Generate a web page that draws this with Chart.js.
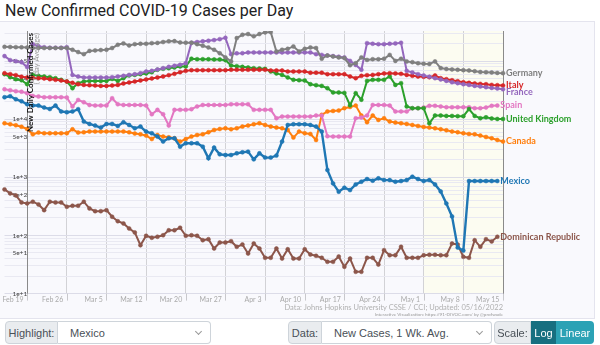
<!DOCTYPE html>
<html>
<head>
<meta charset="utf-8">
<script src="https://cdn.jsdelivr.net/npm/chart.js@4.4.0/dist/chart.umd.min.js"></script>
<style>
body{margin:0;width:600px;height:345px;overflow:hidden;background:#fff;font-family:'Liberation Sans',Arial,sans-serif;position:relative}
#title{position:absolute;left:5px;top:1px;font:16px Roboto,'Liberation Sans',sans-serif;color:#222;white-space:nowrap}
#box{position:absolute;left:0;top:21px;width:594px;height:296px;background:#f9f9fd;border:1px solid #e4e4ee;border-left:none}
#wrap{position:absolute;left:0;top:21px;width:595px;height:297px}
.src{position:absolute;right:97px;white-space:nowrap;font-family:Lato,sans-serif;color:#b0b0b0}
.grp{position:absolute;top:321px;height:23px;display:flex;font:11px 'Liberation Sans',Arial,sans-serif;color:#495057}
.lab{background:#e9ecef;border:1px solid #ced4da;border-radius:4px 0 0 4px;display:flex;align-items:center;justify-content:center;box-sizing:border-box}
.sel{background:#fff;border:1px solid #ced4da;border-left:none;border-radius:0 4px 4px 0;display:flex;align-items:center;justify-content:space-between;padding:0 9px 0 12px;box-sizing:border-box}
.chev{width:4px;height:4px;border-right:1px solid #999;border-bottom:1px solid #999;transform:rotate(45deg);margin-top:-3px}
.btn{display:flex;align-items:center;justify-content:center;color:#fff;box-sizing:border-box}
</style>
</head>
<body>
<div id="title">New Confirmed COVID-19 Cases per Day</div>
<div id="box"></div>
<div id="wrap"><canvas id="chart" width="595" height="297"></canvas></div>
<div class="src" style="top:303px;font-size:7.5px">Data: Johns Hopkins University CSSE / CCI; Updated: 05/16/2022</div>
<div class="src" style="top:311px;font-size:4.6px;color:#999">Interactive Visualization: https://91-DIVOC.com/ by @profwade</div>

<div class="grp" style="left:5px"><div class="lab" style="width:53px">Highlight:</div><div class="sel" style="width:153px">Mexico<span class="chev"></span></div></div>
<div class="grp" style="left:288px"><div class="lab" style="width:34px">Data:</div><div class="sel" style="width:170px">New Cases, 1 Wk. Avg.<span class="chev"></span></div></div>
<div class="grp" style="left:494px"><div class="lab" style="width:37px">Scale:</div><div class="btn" style="width:25px;background:#176f80">Log</div><div class="btn" style="width:38px;background:#2ba2b5;border-radius:0 4px 4px 0">Linear</div></div>

<script>
// tick labels every 7 days, data starts 4 days before the first one
const tickLabels=['Feb 19','Feb 26','Mar 5','Mar 12','Mar 20','Mar 27','Apr 3','Apr 10','Apr 17','Apr 24','May 1','May 8','May 15'];
const leadDays=4;

const germany=[176000,175000,174000,173000,
 172000,168000,168000,168000,168000,168000,168000,
 168000,157000,143000,132000,150000,153000,155000,
 157000,168000,191000,202000,186000,196000,199000,
 199000,204000,206000,213000,219000,221000,210000,
 208000,207000,196000,184000,172000,157000,137000,
 116000,99000,249000,284000,292000,267000,292000,
 312000,316000,147000,157000,163000,179000,147000,
 163000,172000,168000,110000,125000,120000,116000,
 113000,85000,92000,116000,105000,108000,108000,
 110000,128000,101000,110000,99000,96000,92000,
 90000,89000,99000,76000,73000,72000,71000,
 70000,69000,67000,65000,64600,63900,62800,
 62100];
const italy=[62100,59700,57400,54000,
 52400,51500,50900,50300,48900,47600,46500,
 44700,42300,40100,39000,38600,38100,37500,
 37500,38100,39000,41300,42900,44700,46500,
 48400,50300,52400,54500,57400,60400,64600,
 68000,70000,70000,70000,70000,70000,70000,
 70000,71000,71000,71000,71000,71000,71000,
 71000,69000,69000,69000,66400,66400,66400,
 66400,63300,63300,63300,59700,59700,59700,
 59700,54500,50900,55800,57400,58000,59700,
 61500,62100,61500,60400,58000,55800,54500,
 53600,53000,56700,50900,48900,47000,45200,
 43400,42300,41300,40600,40100,39000,38600,
 38100];
const france=[122000,104000,100000,96000,
 79000,196000,181000,174000,170000,170000,170000,
 174000,58000,54500,52400,52400,52400,52400,
 52400,53000,54500,55800,58000,59700,62100,
 66400,68000,71900,75800,79700,83000,86400,
 92400,207000,213000,219000,224000,230000,239000,
 252000,132000,136000,137000,141000,141000,141000,
 141000,141000,141000,141000,141000,141000,141000,
 141000,141000,132000,128000,125000,122000,119000,
 116000,101000,86000,71000,204000,199000,196000,
 196000,199000,202000,207000,68000,64000,59700,
 56700,53600,50900,48400,45700,43400,41800,
 40100,39000,37500,36600,35600,34600,33800,
 32900];
const spain=[32900,31600,30400,29800,
 28100,25200,24600,23900,23900,23900,23900,
 23700,16600,21500,19600,17600,17200,17200,
 17200,23000,18100,17600,17600,17600,17600,
 17200,12200,14500,12200,7800,14500,14500,
 14500,14900,16600,17600,17600,17600,17600,
 17600,18100,18100,18100,18100,14500,14500,
 14500,14500,10400,11100,11100,11100,11100,
 11100,11100,11600,11600,5100,5030,5030,
 5030,5030,10400,10700,11600,17600,17600,
 17600,17200,13600,13600,13600,15500,15500,
 15900,17000,17000,16600,16100,16100,16100,
 16100,16100,15500,15500,15900,17000,17200,
 null];
const uk=[59700,53000,48900,47000,
 40100,58000,55800,54500,53000,50900,47600,
 44700,34200,41800,44700,45700,45700,45700,
 45700,49500,45700,50900,56700,58000,59700,
 61500,64600,71000,73700,75800,77900,81000,
 81000,110000,108000,108000,108000,107000,107000,
 104000,84000,82000,79700,77900,75800,74800,
 73700,66400,61500,58000,52400,47600,47000,
 46500,40100,38600,37500,34200,28900,28900,
 28400,17400,28100,21700,45700,47600,47600,
 47600,54500,39000,41800,16600,15500,15500,
 15500,8500,11600,11600,11400,11400,11300,
 11300,15000,11400,10400,10800,10300,10100,
 10100];
const canada=[8530,8200,7880,7430,
 6800,5510,5900,5740,5740,5740,5740,
 5740,6720,5900,5970,6140,6140,6140,
 6140,6140,6140,6140,5970,5670,5510,
 5230,4570,5360,5030,4890,4700,4130,
 4570,5030,5360,5510,5970,6540,6800,
 6990,6720,6990,7480,7790,8200,8530,
 7970,7480,7190,6990,6540,4840,6140,
 5740,5580,4400,11900,13600,13900,14100,
 15500,16300,17200,11600,8880,11600,9720,
 10400,9130,8770,8530,8300,7970,7660,
 7370,7190,6990,6720,6460,6140,5970,
 5740,5580,5510,5230,4950,4700,4400,
 4130];
const mexico=[23900,24900,22100,20400,
 18100,17200,17200,15900,15000,17200,13600,
 13200,13600,14900,9130,8300,7790,7190,
 8300,8300,7660,8880,7970,6990,7480,
 6140,5740,5030,4130,4700,4700,3380,
 3860,3860,3860,3380,2130,3250,2490,
 2420,2420,2590,2700,2770,2040,2590,
 2190,2190,2370,4130,7970,8200,8200,
 8200,7970,7480,6140,1340,788,567,
 664,604,757,843,935,877,961,
 898,898,843,864,898,1028,935,
 864,898,757,574,356,213,62,
 55,864,864,864,864,864,864,
 null];
const dominican=[621,530,489,371,
 356,381,342,273,381,371,371,
 312,325,325,381,292,262,262,
 273,210,176,161,132,113,68,
 98.8,91.3,95,101,123,123,136,
 98.8,101,98.8,83,86.4,59.7,75.7,
 75.7,79.7,63.8,70,48.9,72.8,59.7,
 41.3,41.3,59.7,40.1,58,40.1,40.1,
 58,47,44.7,41.3,35.2,35.2,43.4,
 28.9,40.1,23.7,23.7,41.3,41.3,31.6,
 55.8,45.7,45.7,63.8,41.3,41.3,41.3,
 45.7,46.5,46.5,45.7,45.7,72.8,70,
 42.9,41.3,83,63.8,86.4,79,95,
 null];

const yTitle='New Daily Confirmed Cases';
const ySubTitle='(7-day Average)';
const shadeFrom='May 1';

const labels=germany.map((v,i)=>{
  const d=i-leadDays;
  return d>=0&&d%7===0?tickLabels[d/7]:'';
});

function series(label,data,color,width){
  return {label,data,borderColor:color,backgroundColor:color,pointBackgroundColor:color,
    pointBorderColor:color,borderWidth:width||2,pointRadius:2,pointBorderWidth:0.5,tension:0,spanGaps:false};
}

const endLabels={
  id:'endLabels',
  afterDatasetsDraw(chart){
    const ctx=chart.ctx;const items=[];
    chart.data.datasets.forEach((ds,i)=>{
      let k=ds.data.length-1;while(ds.data[k]==null)k--;
      const pt=chart.getDatasetMeta(i).data[k];
      items.push({x:pt.x+3,y:pt.y,text:ds.label,color:ds.borderColor});
    });
    items.sort((a,b)=>a.y-b.y);
    for(let i=1;i<items.length;i++) if(items[i].y-items[i-1].y<7) items[i].y=items[i-1].y+7;
    ctx.save();
    ctx.font='bold 9px Lato';ctx.textBaseline='middle';ctx.textAlign='left';
    items.forEach(it=>{ctx.fillStyle=it.color;ctx.fillText(it.text,it.x,it.y);});
    ctx.restore();
  }
};

const shade={
  id:'shade',
  beforeDraw(chart){
    const {ctx,chartArea:a,scales:{x}}=chart;
    const x0=x.getPixelForValue(labels.indexOf(shadeFrom));
    ctx.save();ctx.fillStyle='#fcfcf1';ctx.fillRect(x0,a.top,a.right-x0,a.bottom-a.top);ctx.restore();
  },
  afterDraw(chart){
    const {ctx,chartArea:a,scales:{x}}=chart;
    // little tick marks under the date axis
    ctx.save();ctx.strokeStyle='#c8c8cc';ctx.lineWidth=1;
    x.ticks.forEach(t=>{const px=Math.round(x.getPixelForValue(t.value))+0.5;ctx.beginPath();ctx.moveTo(px,a.bottom);ctx.lineTo(px,a.bottom+7);ctx.stroke();});
    ctx.restore();
    ctx.save();
    ctx.translate(30,a.top+2);ctx.rotate(-Math.PI/2);
    ctx.textAlign='right';ctx.textBaseline='middle';
    ctx.font='bold 8px Lato';ctx.fillStyle='#111';ctx.fillText(yTitle,0,0);
    ctx.font='7.5px Lato';ctx.fillStyle='#999';ctx.fillText(ySubTitle,0,7);
    ctx.restore();
  }
};

new Chart(document.getElementById('chart'),{
  type:'line',
  data:{labels,datasets:[
    series('Mexico',mexico,'#1f77b4',2.4),
    series('Germany',germany,'#7f7f7f'),
    series('France',france,'#9467bd'),
    series('Italy',italy,'#d62728'),
    series('United Kingdom',uk,'#2ca02c'),
    series('Spain',spain,'#e377c2'),
    series('Canada',canada,'#ff7f0e'),
    series('Dominican Republic',dominican,'#8c564b')
  ]},
  options:{
    responsive:false,animation:false,
    layout:{padding:{left:2,right:92,top:10,bottom:12}},
    plugins:{legend:{display:false},tooltip:{enabled:false}},
    scales:{
      x:{
        afterBuildTicks(s){s.ticks=s.ticks.filter(t=>labels[t.value]);},
        grid:{color:c=>c.index===c.scale.ticks.length-1?'#8a8a8a':'#d2d2d6',drawTicks:false},
        border:{display:false},
        ticks:{autoSkip:false,maxRotation:0,align:'end',padding:2,color:'#aaa',font:{family:'Lato',size:7},
          callback(v){return this.getLabelForValue(v)+'  ';}}
      },
      y:{
        type:'logarithmic',min:10,max:330000,
        position:{x:leadDays},
        afterBuildTicks(s){
          const t=[];
          for(let e=1;e<=5;e++) for(let m=1;m<=9;m++){const v=m*Math.pow(10,e);if(v<=s.max)t.push({value:v});}
          s.ticks=t;
        },
        grid:{color:c=>{const v=c.tick&&c.tick.value;const m=v/Math.pow(10,Math.floor(Math.log10(v)+1e-9));return Math.abs(m-1)<1e-6?'#dcdce8':'#e9e9f2';},tickLength:4},
        border:{color:'#8a8a8a'},
        ticks:{autoSkip:false,color:'#444',font:{family:'Lato',size:6.5},
          callback(v){const m=v/Math.pow(10,Math.floor(Math.log10(v)+1e-9));return (Math.abs(m-1)<1e-6||Math.abs(m-5)<1e-6)?v.toExponential(0):'';}}
      }
    }
  },
  plugins:[shade,endLabels]
});
</script>
</body>
</html>
